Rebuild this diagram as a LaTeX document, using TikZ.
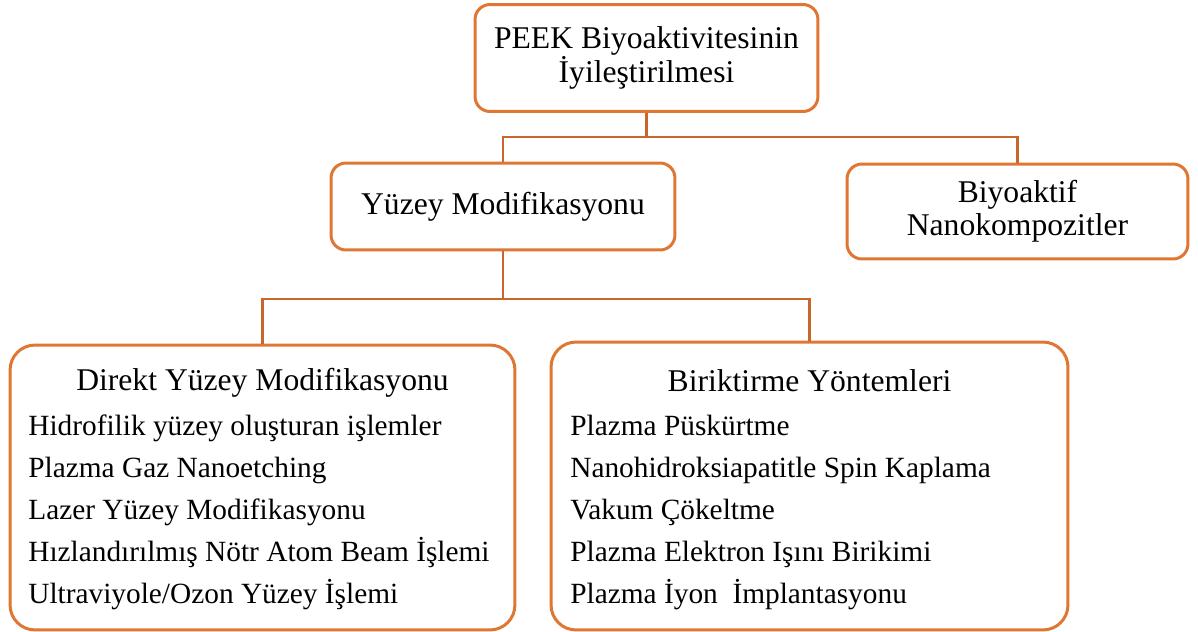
\documentclass[tikz,border=0pt]{standalone}
\usepackage{fontspec}
\setmainfont{Liberation Serif}
\usetikzlibrary{positioning}
\definecolor{boxorange}{RGB}{223,118,50}
\definecolor{lineorange}{RGB}{201,102,44}
\tikzstyle{smallbox} = [rectangle, rounded corners=0.3cm, draw=boxorange, line width=1.7pt, align=center, font=\fontsize{18}{19}\selectfont, inner sep=0pt]
\tikzstyle{listbox} = [rectangle, rounded corners=0.5cm, draw=boxorange, line width=1.7pt, inner sep=0pt]
\tikzstyle{item} = [anchor=base west, font=\fontsize{16.7}{19}\selectfont, inner sep=0pt]
\tikzstyle{heading} = [anchor=base, font=\fontsize{18}{19}\selectfont, inner sep=0pt]
\tikzstyle{conn} = [draw=lineorange, line width=1.3pt]

\begin{document}
\begin{tikzpicture}[x=0.02cm, y=-0.02cm]
    \useasboundingbox (0,0) rectangle (1198,632);

    % Boxes
    \node[smallbox, minimum width=6.86cm, minimum height=2.14cm] (peek) at (646.5,58) {PEEK Biyoaktivitesinin\\İyileştirilmesi};
    \node[smallbox, minimum width=6.88cm, minimum height=1.74cm] (yuzey) at (503,206.5) {Yüzey Modifikasyonu};
    \node[smallbox, minimum width=6.82cm, minimum height=1.9cm] (nano) at (1017.5,211.5) {Biyoaktif\\Nanokompozitler};
    \node[listbox, minimum width=10.1cm, minimum height=5.7cm] (direkt) at (262.5,487.5) {};
    \node[listbox, minimum width=10.34cm, minimum height=5.76cm] (birik) at (809.5,486) {};

    % Junctions
    \coordinate (j1) at (646.5,137);
    \coordinate (j2) at (503,299);

    % Connectors
    \draw[conn] (peek.south) -- (j1);
    \draw[conn] (j1) -| (yuzey.north);
    \draw[conn] (j1) -| (nano.north);
    \draw[conn] (yuzey.south) -- (j2);
    \draw[conn] (j2) -| (direkt.north);
    \draw[conn] (j2) -| (birik.north);

    % Direkt Yuzey Modifikasyonu
    \node[heading] (dhead) at (262.5,390) {Direkt Yüzey Modifikasyonu};
    \node[item] (d1) at (28,435) {Hidrofilik yüzey oluşturan işlemler};
    \node[item] (d2) at (28,477) {Plazma Gaz Nanoetching};
    \node[item] (d3) at (28,519) {Lazer Yüzey Modifikasyonu};
    \node[item] (d4) at (28,561) {Hızlandırılmış Nötr Atom Beam İşlemi};
    \node[item] (d5) at (28,603) {Ultraviyole/Ozon Yüzey İşlemi};

    % Biriktirme Yontemleri
    \node[heading] (bhead) at (809.5,391) {Biriktirme Yöntemleri};
    \node[item] (b1) at (570,435) {Plazma Püskürtme};
    \node[item] (b2) at (570,477) {Nanohidroksiapatitle Spin Kaplama};
    \node[item] (b3) at (570,519) {Vakum Çökeltme};
    \node[item] (b4) at (570,561) {Plazma Elektron Işını Birikimi};
    \node[item] (b5) at (570,603) {Plazma İyon\ \ İmplantasyonu};
\end{tikzpicture}
\end{document}
